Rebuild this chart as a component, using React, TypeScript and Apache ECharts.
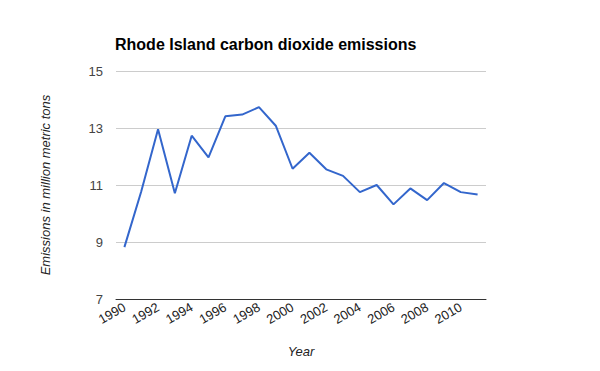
import React, { useEffect, useRef } from "react";
import * as echarts from "echarts";

const years = ["1990","1991","1992","1993","1994","1995","1996","1997","1998","1999","2000","2001","2002","2003","2004","2005","2006","2007","2008","2009","2010","2011"];
const emissions = [8.82, 10.77, 12.96, 10.71, 12.73, 11.97, 13.41, 13.47, 13.73, 13.08, 11.57, 12.13, 11.55, 11.32, 10.75, 11.0, 10.32, 10.88, 10.47, 11.07, 10.75, 10.67];

export default function App() {
  const ref = useRef<HTMLDivElement>(null);
  useEffect(() => {
    if (!ref.current) return;
    const chart = echarts.init(ref.current, undefined, { renderer: "svg" });
    chart.setOption({
      animation: false,
      backgroundColor: "#ffffff",
      title: {
        text: "Rhode Island carbon dioxide emissions",
        left: 115,
        top: 36,
        padding: 0,
        textStyle: { fontFamily: "Liberation Sans, Arial", fontSize: 16, fontWeight: "bold", color: "#000" },
      },
      grid: { left: 116, right: 114, top: 71, bottom: 72 },
      xAxis: {
        type: "category",
        data: years,
        boundaryGap: true,
        name: "Year",
        nameLocation: "middle",
        nameGap: 46,
        nameTextStyle: { fontFamily: "Liberation Sans, Arial", fontSize: 13, fontStyle: "italic", color: "#222" },
        axisLine: { lineStyle: { color: "#333", width: 1 } },
        axisTick: { show: false },
        axisLabel: {
          interval: 1,
          rotate: 30,
          margin: 7,
          fontFamily: "Liberation Sans, Arial",
          fontSize: 13,
          color: "#222",
        },
      },
      yAxis: {
        type: "value",
        min: 7,
        max: 15,
        interval: 2,
        name: "Emissions in million metric tons",
        nameLocation: "middle",
        nameGap: 64,
        nameRotate: 90,
        nameTextStyle: { fontFamily: "Liberation Sans, Arial", fontSize: 13, fontStyle: "italic", color: "#222" },
        axisLine: { show: false },
        axisTick: { show: false },
        axisLabel: { fontFamily: "Liberation Sans, Arial", fontSize: 13, color: "#444", margin: 13 },
        splitLine: { lineStyle: { color: "#cccccc", width: 1 } },
      },
      series: [
        {
          type: "line",
          data: emissions,
          symbol: "none",
          lineStyle: { color: "#3366cc", width: 2 },
          itemStyle: { color: "#3366cc" },
        },
      ],
    });
    return () => chart.dispose();
  }, []);
  return <div ref={ref} style={{ width: 600, height: 371, position: "absolute", left: 0, top: 0 }} />;
}
